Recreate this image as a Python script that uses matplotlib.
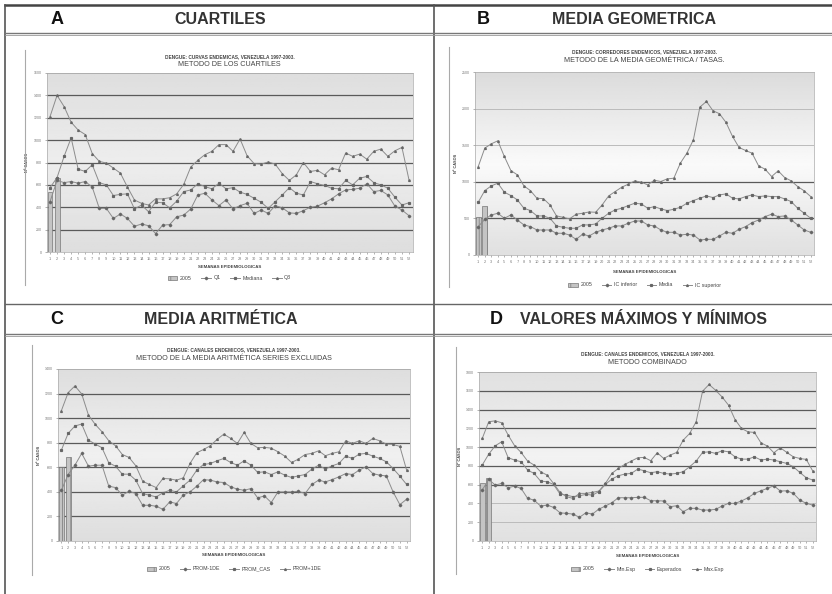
import numpy as np
import matplotlib
matplotlib.use('Agg')
import matplotlib.pyplot as plt
from matplotlib.lines import Line2D

plt.rcParams['font.family'] = ['Liberation Sans', 'DejaVu Sans']
plt.rcParams['hatch.linewidth'] = 0.5

weeks = list(range(1, 53))
week_labels = [str(w) for w in weeks]

# A - cuartiles
a_bars = [540, 660]
a_q1 = [450, 640, 620, 630, 615, 630, 580, 390, 390, 300, 340, 300, 230, 250, 235, 165,
        240, 245, 315, 330, 385, 510, 525, 465, 415, 465, 385, 415, 435, 345, 375, 345,
        415, 395, 350, 345, 370, 400, 410, 440, 475, 520, 555, 560, 570, 610, 540, 550,
        510, 410, 375, 325]
a_med = [575, 665, 855, 1020, 740, 720, 780, 620, 600, 505, 515, 520, 385, 420, 360, 445,
         440, 395, 455, 540, 555, 610, 585, 565, 615, 565, 575, 535, 515, 480, 445, 390,
         450, 510, 575, 525, 510, 630, 610, 595, 570, 565, 640, 600, 660, 675, 620, 600,
         570, 490, 420, 440]
a_q3 = [1210, 1400, 1300, 1160, 1090, 1050, 880, 810, 795, 750, 705, 580, 465, 435, 420, 475,
        475, 485, 520, 605, 760, 820, 870, 900, 960, 960, 900, 1010, 860, 790, 785, 805,
        785, 700, 640, 690, 800, 720, 730, 690, 750, 735, 885, 855, 875, 830, 900, 920,
        855, 905, 935, 645]

# B - media geometrica
b_bars = [515, 675]
b_low = [388, 488, 547, 570, 502, 547, 479, 411, 388, 342, 342, 342, 297, 297, 274, 214,
         283, 260, 310, 342, 365, 397, 397, 433, 465, 465, 411, 397, 342, 310, 310, 274,
         283, 274, 205, 214, 214, 260, 310, 297, 351, 388, 442, 479, 525, 557, 525, 534,
         479, 411, 342, 310]
b_mid = [721, 880, 944, 981, 858, 812, 753, 639, 607, 534, 534, 502, 397, 379, 365, 365,
         411, 411, 424, 502, 570, 616, 639, 675, 707, 698, 639, 661, 630, 607, 625, 652,
         707, 744, 776, 807, 785, 821, 835, 776, 766, 798, 821, 798, 807, 798, 798, 766,
         730, 639, 570, 502]
b_high = [1209, 1460, 1519, 1560, 1346, 1154, 1095, 944, 880, 775, 770, 684, 534, 515, 493, 557,
          570, 588, 584, 684, 807, 867, 926, 967, 1013, 995, 958, 1022, 1004, 1040, 1049, 1255,
          1391, 1574, 2021, 2098, 1971, 1930, 1811, 1620, 1469, 1428, 1391, 1218, 1172, 1072, 1150, 1058,
          1013, 935, 876, 798]

# C - media aritmetica
c_bars = [600, 680]
c_low = [413, 541, 617, 713, 609, 617, 617, 446, 435, 373, 405, 386, 291, 291, 283, 258,
         318, 305, 373, 400, 446, 500, 495, 481, 476, 441, 422, 413, 427, 351, 367, 313,
         400, 400, 400, 405, 386, 460, 495, 481, 500, 522, 549, 541, 577, 604, 549, 536,
         530, 400, 296, 340]
c_mid = [740, 876, 936, 952, 821, 789, 759, 636, 609, 544, 544, 495, 386, 373, 359, 392,
         413, 400, 449, 495, 577, 623, 631, 653, 672, 639, 617, 653, 617, 558, 563, 541,
         563, 536, 517, 530, 541, 585, 617, 585, 612, 631, 691, 672, 707, 713, 691, 672,
         645, 590, 528, 460]
c_high = [1061, 1208, 1262, 1197, 1025, 949, 889, 816, 775, 704, 680, 612, 487, 460, 435, 509,
          506, 495, 514, 631, 718, 745, 775, 827, 870, 835, 794, 884, 794, 759, 762, 756,
          726, 691, 639, 666, 704, 713, 734, 694, 713, 726, 816, 794, 816, 794, 835, 816,
          789, 786, 770, 577]

# D - valores maximos y minimos
d_bars = [620, 674]
d_low = [543, 656, 596, 613, 567, 585, 560, 454, 436, 372, 383, 358, 301, 294, 287, 252,
         301, 287, 340, 372, 408, 461, 461, 461, 465, 465, 429, 429, 426, 365, 376, 312,
         348, 348, 330, 330, 337, 372, 401, 401, 426, 461, 507, 535, 560, 589, 532, 535,
         507, 436, 401, 383]
d_mid = [809, 925, 1014, 1057, 887, 862, 844, 755, 720, 638, 631, 603, 500, 489, 472, 482,
         496, 489, 525, 603, 660, 695, 713, 720, 766, 748, 727, 738, 720, 713, 720, 738,
         791, 851, 943, 950, 933, 961, 950, 897, 872, 872, 897, 862, 872, 862, 844, 826,
         791, 730, 674, 649]
d_high = [1092, 1270, 1280, 1259, 1128, 1014, 943, 851, 809, 738, 702, 613, 518, 472, 454, 507,
          507, 518, 532, 613, 720, 773, 816, 851, 887, 890, 855, 940, 879, 915, 943, 1074,
          1145, 1269, 1596, 1667, 1606, 1535, 1447, 1294, 1199, 1163, 1156, 1046, 1011, 940, 993, 943,
          897, 879, 869, 745]

W, H = 832, 594
fig = plt.figure(figsize=(W / 100, H / 100), dpi=100)
fig.patch.set_facecolor('white')


def fx(x):
    return x / W


def fy(y):
    return 1 - y / H


def fig_line(xs, ys, lw=1.0, color='#555555'):
    fig.add_artist(Line2D([fx(v) for v in xs], [fy(v) for v in ys], lw=lw, color=color,
                          transform=fig.transFigure))


# frame of the composite figure
fig_line([5, 832], [5, 5], lw=1.8, color='#444444')
fig_line([5, 5], [5, 594], lw=1.2, color='#555555')
fig_line([434, 434], [5, 594], lw=1.2, color='#555555')
fig_line([5, 832], [33, 33], lw=1.0, color='#777777')
fig_line([5, 832], [35, 35], lw=0.6, color='#999999')
fig_line([5, 832], [304, 304], lw=1.0, color='#666666')
fig_line([5, 832], [334, 334], lw=1.0, color='#777777')
fig_line([5, 832], [336, 336], lw=0.6, color='#999999')

headers = [(57, 20, 'A', 220, 'CUARTILES'),
           (483, 20, 'B', 634, 'MEDIA GEOMETRICA'),
           (57, 320, 'C', 221, 'MEDIA ARITMÉTICA'),
           (496, 320, 'D', 643, 'VALORES MÁXIMOS Y MÍNIMOS')]
for lx, ly, letter, tx, text in headers:
    fig.text(fx(lx), fy(ly), letter, ha='center', va='center', fontsize=13,
             fontweight='bold', color='#111111')
    fig.text(fx(tx), fy(ly), text, ha='center', va='center', fontsize=11.5,
             fontweight='bold', color='#333333')


def panel(box, ymax, ystep, dark, light, bars, series, names, title1, title2,
          frame_x, frame_y, title_y, xlab_y, leg_y, shade):
    x0, y0, x1, y1 = box
    ax = fig.add_axes([fx(x0), fy(y1), (x1 - x0) / W, (y1 - y0) / H])
    # gradient background of the plot area
    grad = np.interp(np.linspace(0, 1, 100), [0, 0.5, 1], shade).reshape(-1, 1)
    ax.imshow(grad, extent=(0, 1, 0, 1), transform=ax.transAxes, aspect='auto',
              cmap='gray', vmin=0, vmax=1, zorder=0)
    for lvl in dark:
        ax.axhline(lvl, color='#5a5a5a', lw=0.9, zorder=1)
    for lvl in light:
        ax.axhline(lvl, color='#bbbbbb', lw=0.7, zorder=1)
    ax.bar([1, 2], bars, width=0.7, color='#c4c4c4', edgecolor='#777777',
           hatch='||', lw=0.5, zorder=2, label='2005')
    markers = ['D', 's', '^']
    for vals, name, m in zip(series, names, markers):
        ax.plot(weeks, vals, color='#8c8c8c', lw=0.7, marker=m, ms=1.3,
                mfc='#666666', mec='#666666', zorder=3, label=name)
    ax.set_xlim(0.5, 52.5)
    ax.set_ylim(0, ymax)
    ax.set_xticks(weeks)
    ax.set_xticklabels(week_labels, fontsize=2.8, color='#444444')
    ax.set_yticks(np.arange(0, ymax + 1, ystep))
    ax.set_yticklabels([str(v) for v in np.arange(0, ymax + 1, ystep)], fontsize=2.6,
                       color='#555555')
    ax.tick_params(length=1.5, width=0.4, pad=2, colors='#777777')
    for s in ax.spines.values():
        s.set_color('#aaaaaa')
        s.set_linewidth(0.5)
    ax.set_ylabel('Nº CASOS', fontsize=2.8, fontweight='bold', color='#444444', labelpad=3)
    cx = (x0 + x1) / 2
    fig.text(fx(cx), fy(title_y), title1, ha='center', va='center', fontsize=3.4,
             fontweight='bold', color='#444444')
    fig.text(fx(cx), fy(title_y + 8), title2, ha='center', va='center', fontsize=5.2,
             color='#444444')
    fig.text(fx(cx), fy(xlab_y), 'SEMANAS EPIDEMIOLOGICAS', ha='center', va='center',
             fontsize=3.2, fontweight='bold', color='#444444')
    handles, labels = ax.get_legend_handles_labels()
    order = [len(handles) - 1] + list(range(len(handles) - 1))
    fig.legend([handles[i] for i in order], [labels[i] for i in order],
               loc='center', bbox_to_anchor=(fx(cx), fy(leg_y)), ncol=4, frameon=False,
               fontsize=3.8, handlelength=1.8, handleheight=0.8, columnspacing=1.8,
               handletextpad=0.5, labelcolor='#444444')
    fig_line([frame_x, frame_x], frame_y, lw=0.8, color='#aaaaaa')
    return ax


panel((46.5, 73, 412.5, 252), 1600, 200, [200, 400, 600, 800, 1000, 1200, 1400], [1600],
      a_bars, [a_q1, a_med, a_q3], ['Q1', 'Mediana', 'Q3'],
      'DENGUE: CURVAS ENDEMICAS, VENEZUELA 1997-2003.', 'METODO DE LOS CUARTILES',
      25, [50, 285], 57, 267, 278, [0.87, 0.93, 0.87])

panel((475, 72, 814, 255), 2500, 500, [500, 1000], [1500, 2000],
      b_bars, [b_low, b_mid, b_high], ['IC inferior', 'Media', 'IC superior'],
      'DENGUE: CORREDORES ENDEMICOS, VENEZUELA 1997-2003.',
      'METODO DE LA MEDIA GEOMÉTRICA / TASAS.',
      449, [47, 287], 52, 272, 285, [0.86, 0.98, 0.88])

panel((58, 369, 410, 541), 1400, 200, [200, 400, 600, 800, 1000, 1200], [1400],
      c_bars, [c_low, c_mid, c_high], ['PROM-1DE', 'PROM_CAS', 'PROM+1DE'],
      'DENGUE: CANALES ENDEMICOS, VENEZUELA 1997-2003.',
      'METODO DE LA MEDIA ARITMÉTICA SERIES EXCLUIDAS',
      32, [345, 575], 350, 555, 569, [0.87, 0.94, 0.87])

panel((479, 372, 816, 541), 1800, 200, [600, 800, 1000, 1200, 1400, 1600], [200, 400, 1800],
      d_bars, [d_low, d_mid, d_high], ['Min.Esp', 'Esperados', 'Max.Esp'],
      'DENGUE: CANALES ENDEMICOS, VENEZUELA 1997-2003.', 'METODO COMBINADO',
      456, [347, 574], 354, 556, 569, [0.88, 0.95, 0.88])

fig.savefig('out.png', dpi=100, facecolor='white')
